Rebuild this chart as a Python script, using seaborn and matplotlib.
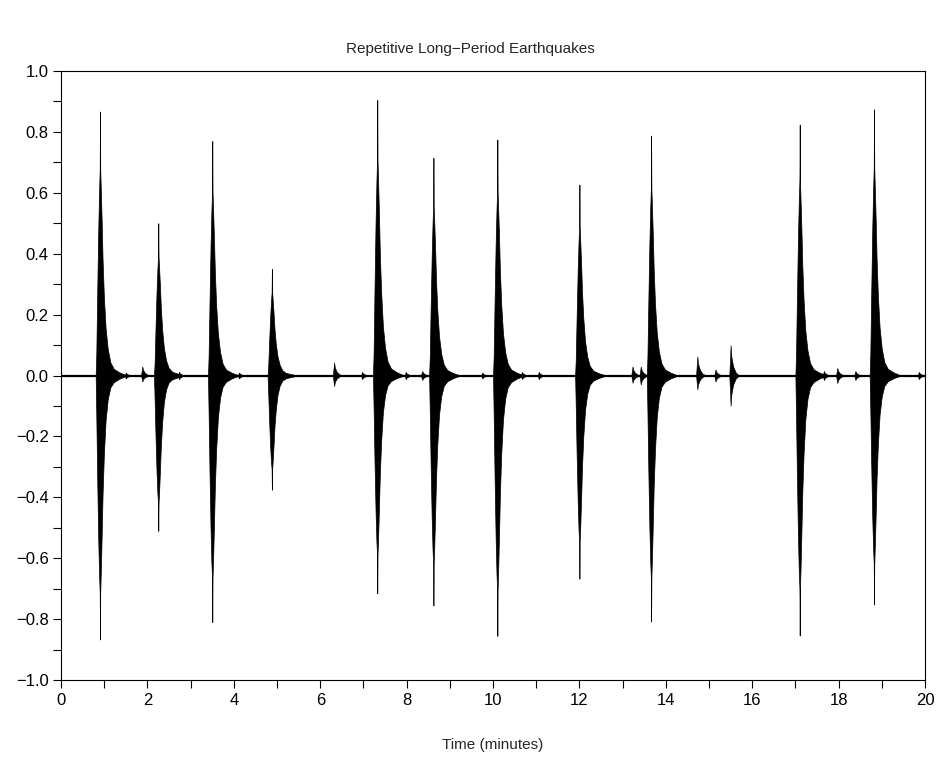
import numpy as np
import pandas as pd
import matplotlib
matplotlib.use("Agg")
import matplotlib.pyplot as plt
import seaborn as sns
from matplotlib.ticker import MultipleLocator

# ---- data ----
# large long-period events: peak time (min), positive peak, negative peak (magnitude)
event_time = [0.90, 2.25, 3.50, 4.88, 7.32, 8.62, 10.10, 12.00, 13.66, 17.10, 18.82]
event_up   = [0.867, 0.50, 0.77, 0.35, 0.905, 0.715, 0.775, 0.627, 0.788, 0.824, 0.874]
event_down = [0.867, 0.51, 0.81, 0.375, 0.715, 0.755, 0.855, 0.667, 0.808, 0.854, 0.752]

# envelope shape of one event (offset from peak in minutes, relative amplitude)
shape_offset = [-0.10, -0.085, -0.065, -0.04, -0.02, -0.006, 0.0, 0.006, 0.02, 0.04,
                0.06, 0.09, 0.13, 0.18, 0.24, 0.32, 0.45, 0.62]
shape_up     = [0.0, 0.08, 0.30, 0.55, 0.70, 0.78, 1.0, 0.78, 0.70, 0.58,
                0.44, 0.30, 0.18, 0.10, 0.05, 0.025, 0.012, 0.0]
shape_down   = [0.0, 0.15, 0.38, 0.62, 0.76, 0.82, 1.0, 0.82, 0.74, 0.60,
                0.45, 0.30, 0.17, 0.09, 0.045, 0.025, 0.012, 0.0]

# small events / blips: time, positive peak, negative peak (magnitude)
blip_time = [1.50, 1.88, 2.73, 4.12, 6.32, 6.97, 7.98, 8.36, 9.75, 10.67, 11.06,
             13.23, 13.42, 14.73, 15.15, 15.50, 17.66, 17.97, 18.39, 19.86]
blip_up   = [0.01, 0.03, 0.012, 0.01, 0.043, 0.012, 0.012, 0.015, 0.01, 0.012, 0.012,
             0.03, 0.03, 0.063, 0.02, 0.10, 0.015, 0.025, 0.015, 0.012]
blip_down = [0.01, 0.02, 0.012, 0.01, 0.035, 0.012, 0.012, 0.015, 0.01, 0.012, 0.012,
             0.024, 0.03, 0.046, 0.02, 0.10, 0.015, 0.025, 0.015, 0.012]
blip_offset = [-0.03, 0.0, 0.02, 0.06, 0.12, 0.20]
blip_rel    = [0.0, 1.0, 0.6, 0.3, 0.1, 0.0]

baseline_t = [0, 20]
baseline_v = [0, 0]

x_ticks = [0, 2, 4, 6, 8, 10, 12, 14, 16, 18, 20]
y_ticks = [-1.0, -0.8, -0.6, -0.4, -0.2, 0.0, 0.2, 0.4, 0.6, 0.8, 1.0]

# ---- plotting ----
sns.set_theme(style="ticks")
plt.rcParams['font.family'] = ['Liberation Sans', 'DejaVu Sans']
plt.rcParams['axes.unicode_minus'] = True

fig = plt.figure(figsize=(9.4, 7.57), dpi=100)
ax = fig.add_axes([0.065, 0.1017, 0.919, 0.8045])

df_base = pd.DataFrame({"t": baseline_t, "v": baseline_v})
sns.lineplot(data=df_base, x="t", y="v", ax=ax, color="black", linewidth=1.6)

so = np.array(shape_offset)
su = np.array(shape_up)
sd = np.array(shape_down)
for t, u, d in zip(event_time, event_up, event_down):
    ax.fill_between(t + so, -d * sd, u * su, color="black", linewidth=0.5, edgecolor="black")

bo = np.array(blip_offset)
br = np.array(blip_rel)
for t, u, d in zip(blip_time, blip_up, blip_down):
    ax.fill_between(t + bo, -d * br, u * br, color="black", linewidth=0.4, edgecolor="black")

ax.set_xlim(0, 20)
ax.set_ylim(-1.0, 1.0)
ax.set_xticks(x_ticks)
ax.set_yticks(y_ticks)
ax.set_yticklabels([f"{v:.1f}".replace("-", "\u2212") for v in y_ticks])
ax.xaxis.set_minor_locator(MultipleLocator(1))
ax.yaxis.set_minor_locator(MultipleLocator(0.1))
ax.tick_params(axis="both", which="both", direction="out", length=6, width=0.8,
               color="black", labelsize=12, labelcolor="black", pad=3)
ax.tick_params(top=False, right=False, which="both")
for s in ax.spines.values():
    s.set_visible(True)
    s.set_color("black")
    s.set_linewidth(0.8)

ax.set_xlabel("Time (minutes)", fontsize=11, labelpad=22)
ax.set_ylabel("")
fig.suptitle("Repetitive Long\u2212Period Earthquakes", fontsize=11, y=0.945)

fig.savefig("out.png", dpi=100)
